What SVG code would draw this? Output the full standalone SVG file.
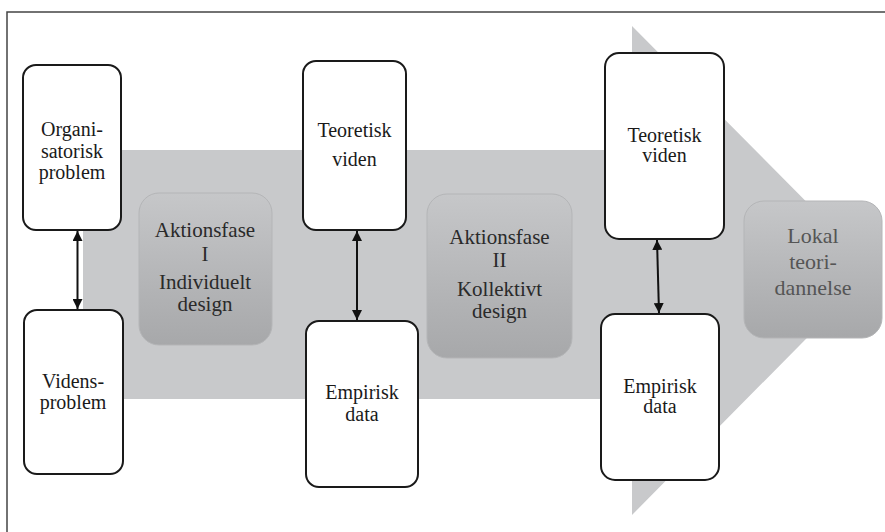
<svg xmlns="http://www.w3.org/2000/svg" width="885" height="532" viewBox="0 0 885 532">
<defs>
<linearGradient id="gb" x1="0" y1="0" x2="0" y2="1">
<stop offset="0" stop-color="#c6c7c9"/>
<stop offset="1" stop-color="#a7a8aa"/>
</linearGradient>
<marker id="ah" viewBox="0 0 10 10" refX="10" refY="5" markerWidth="5" markerHeight="5" orient="auto-start-reverse" markerUnits="strokeWidth">
<path d="M0,0 L10,5 L0,10 z" fill="#111"/>
</marker>
<style>
.wb{fill:#fff;stroke:#1a1a1a;stroke-width:2}
.gb{fill:url(#gb);stroke:#b4b5b7;stroke-width:1}
text{font-family:'Liberation Serif','DejaVu Serif',serif;text-anchor:middle}
.t{font-size:20px;fill:#1a1a1a}
.tg{font-size:21px;fill:#2a2a2a}
.tl{font-size:22px;fill:#555}
.c{stroke:#111;stroke-width:2;fill:none;marker-start:url(#ah);marker-end:url(#ah)}
</style>
</defs>
<rect x="0" y="0" width="885" height="532" fill="#fff"/>
<path d="M7,532 L7,12 L885,12" fill="none" stroke="#444" stroke-width="1.5"/>
<path id="bigarrow" d="M83,150 L632,150 L632,26 L874,270 L632,515 L632,399 L83,399 z" fill="#c8c9cb"/>

<g id="n-aktion1" font-family="Liberation Serif, serif">
<rect class="gb" x="139" y="193" width="133" height="152" rx="20"/>
<text class="tg" x="205" y="237">Aktionsfase</text>
<text class="tg" x="205" y="261">I</text>
<text class="tg" x="205" y="289">Individuelt</text>
<text class="tg" x="205" y="311">design</text>
</g>
<g id="n-aktion2">
<rect class="gb" x="427" y="194" width="145" height="164" rx="20"/>
<text class="tg" x="499.5" y="244">Aktionsfase</text>
<text class="tg" x="499.5" y="267">II</text>
<text class="tg" x="499.5" y="296">Kollektivt</text>
<text class="tg" x="499.5" y="318">design</text>
</g>
<g id="n-lokal">
<rect class="gb" x="744" y="201" width="138" height="137" rx="20"/>
<text class="tl" x="813" y="243">Lokal</text>
<text class="tl" x="813" y="269">teori-</text>
<text class="tl" x="813" y="295">dannelse</text>
</g>

<g id="n-org">
<rect class="wb" x="23" y="65" width="98" height="165" rx="13"/>
<text class="t" x="72" y="136">Organi-</text>
<text class="t" x="72" y="158">satorisk</text>
<text class="t" x="72" y="179">problem</text>
</g>
<g id="n-videns">
<rect class="wb" x="24" y="310" width="99" height="164" rx="13"/>
<text class="t" x="73" y="388">Videns-</text>
<text class="t" x="73" y="409">problem</text>
</g>
<g id="n-teo1">
<rect class="wb" x="303" y="61" width="103" height="169" rx="13"/>
<text class="t" x="354.5" y="137">Teoretisk</text>
<text class="t" x="354.5" y="166">viden</text>
</g>
<g id="n-emp1">
<rect class="wb" x="306" y="321" width="112" height="166" rx="13"/>
<text class="t" x="362" y="399">Empirisk</text>
<text class="t" x="362" y="421">data</text>
</g>
<g id="n-teo2">
<rect class="wb" x="605" y="53" width="119" height="186" rx="14"/>
<text class="t" x="664.5" y="142">Teoretisk</text>
<text class="t" x="664.5" y="162">viden</text>
</g>
<g id="n-emp2">
<rect class="wb" x="601" y="314" width="118" height="166" rx="14"/>
<text class="t" x="660" y="393">Empirisk</text>
<text class="t" x="660" y="413">data</text>
</g>

<g id="connectors">
<line class="c" x1="77.5" y1="231" x2="77.5" y2="309"/>
<line class="c" x1="357" y1="231" x2="357" y2="320"/>
<line class="c" x1="657" y1="240" x2="659" y2="313"/>
</g>
</svg>
